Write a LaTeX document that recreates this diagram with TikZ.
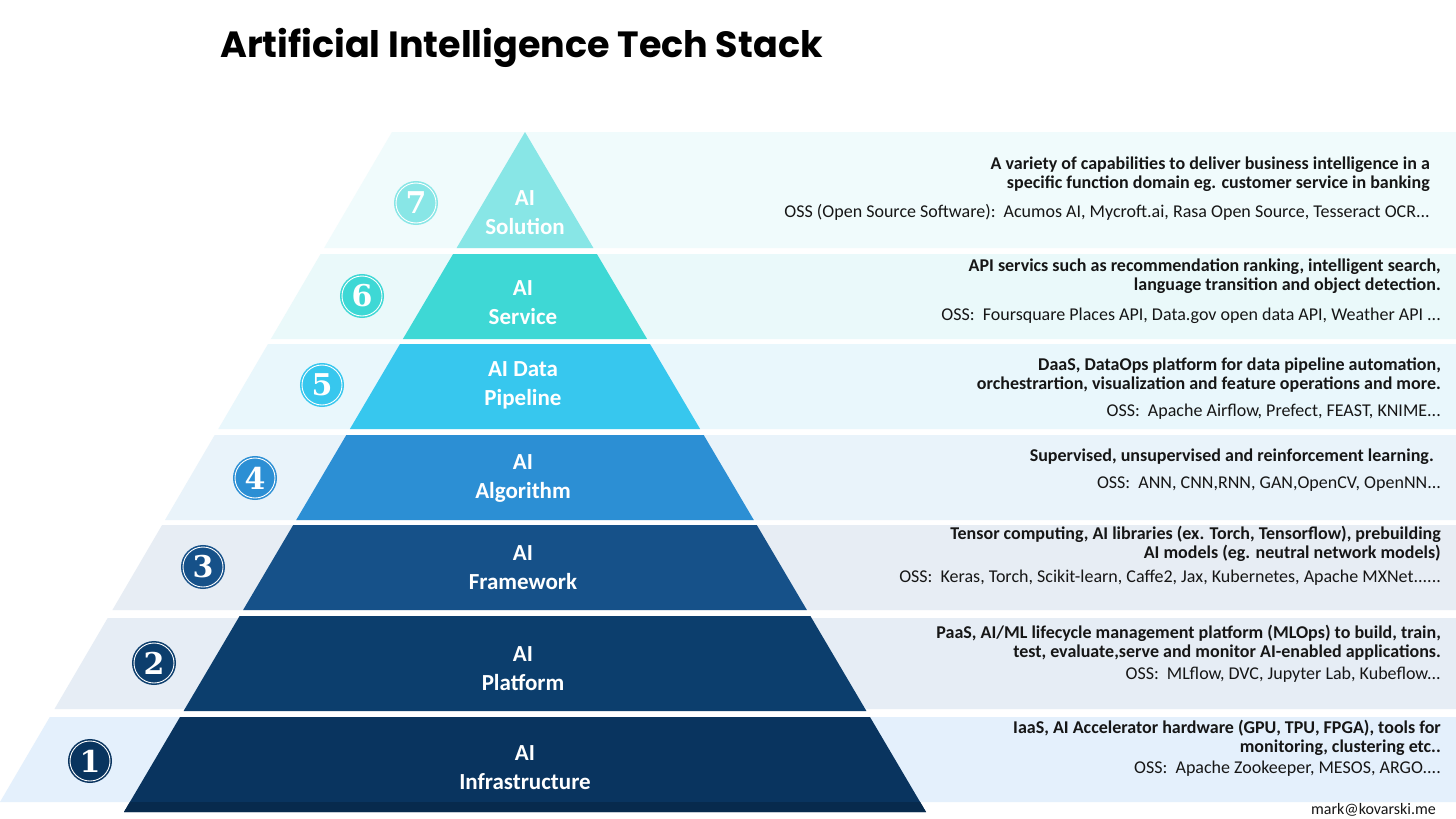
\documentclass[tikz,border=0pt]{standalone}
\usepackage{fontspec}
\setmainfont{Carlito}
\newfontfamily\titlefont{Poppins}
\newfontfamily\badgefont{DejaVu Serif}

\definecolor{solc}{HTML}{88E6E6}
\definecolor{solbg}{HTML}{F0FBFC}
\definecolor{svcc}{HTML}{3ED8D5}
\definecolor{svcbg}{HTML}{EAF9FA}
\definecolor{pipec}{HTML}{37C7EE}
\definecolor{pipebg}{HTML}{E9F7FC}
\definecolor{algoc}{HTML}{2C8FD4}
\definecolor{algobg}{HTML}{E9F3FA}
\definecolor{framec}{HTML}{165189}
\definecolor{framebg}{HTML}{E7EDF4}
\definecolor{platc}{HTML}{0C3E6D}
\definecolor{platbg}{HTML}{E6EDF5}
\definecolor{infrac}{HTML}{09345F}
\definecolor{infrabg}{HTML}{E4F0FC}
\definecolor{infrastrip}{HTML}{072A4D}
\definecolor{txt}{HTML}{161616}

\tikzset{
  badge/.style={circle, fill=#1, draw=white, line width=0.9pt, minimum size=40pt, inner sep=0pt,
    preaction={draw=#1, line width=4pt}, text=white,
    font=\badgefont\bfseries\fontsize{30}{30}\selectfont},
  lbl/.style={text=white, align=center, inner sep=0pt, font=\bfseries\fontsize{23}{29}\selectfont},
  desc/.style={anchor=east, align=right, inner sep=0pt, text=txt, font=\bfseries\fontsize{18}{18.5}\selectfont},
  oss/.style={anchor=east, inner sep=0pt, text=txt, font=\fontsize{18}{18.5}\selectfont}
}

\begin{document}
\begin{tikzpicture}[x=1pt, y=-1pt]
        \useasboundingbox[fill=white] (0,0) rectangle (1456,819);

        \node[anchor=base west, inner sep=0pt, font=\titlefont\bfseries\fontsize{36.5}{36.5}\selectfont] (title) at (220,57) {Artificial Intelligence Tech Stack};

        % light bands
        \fill[solbg] (392,132) -- (1456,132) -- (1456,248) -- (324.1,248) -- cycle;
        \fill[svcbg] (320.6,254) -- (1456,254) -- (1456,339) -- (270.9,339) -- cycle;
        \fill[pipebg] (268,344) -- (1456,344) -- (1456,429) -- (218.3,429) -- cycle;
        \fill[algobg] (214.7,435) -- (1456,435) -- (1456,520) -- (165,520) -- cycle;
        \fill[framebg] (162.1,525) -- (1456,525) -- (1456,610) -- (112.4,610) -- cycle;
        \fill[platbg] (107.7,618) -- (1456,618) -- (1456,709) -- (54.5,709) -- cycle;
        \fill[infrabg] (49.8,717) -- (1456,717) -- (1456,802) -- (0,802) -- cycle;

        % pyramid
        \fill[solc] (525,132) -- (593.4,248) -- (456.6,248) -- cycle;
        \fill[svcc] (453.1,254) -- (596.9,254) -- (647.1,339) -- (402.9,339) -- cycle;
        \fill[pipec] (400,344) -- (650,344) -- (700.1,429) -- (349.9,429) -- cycle;
        \fill[algoc] (346.3,435) -- (703.7,435) -- (753.8,520) -- (296.2,520) -- cycle;
        \fill[framec] (293.2,525) -- (756.8,525) -- (806.9,610) -- (243.1,610) -- cycle;
        \fill[platc] (239.6,616) -- (810.4,616) -- (866.4,711) -- (183.6,711) -- cycle;
        \fill[infrac] (180,717) -- (870,717) -- (926,812) -- (124,812) -- cycle;
        \fill[infrastrip] (129.9,802) -- (920.1,802) -- (926,812) -- (124,812) -- cycle;

        \node[lbl] (solution) at (525,213) {AI\\Solution};
        \node[lbl] (service) at (523,302.5) {AI\\Service};
        \node[lbl] (pipeline) at (523,385) {AI Data\\Pipeline};
        \node[lbl] (algorithm) at (523,478.5) {AI\\Algorithm};
        \node[lbl] (framework) at (523,567.5) {AI\\Framework};
        \node[lbl] (platform) at (523,668.5) {AI\\Platform};
        \node[lbl] (infra) at (525,767.5) {AI\\Infrastructure};

        % numbers
        \node[badge=solc] (n7) at (416,203) {7};
        \node[badge=svcc] (n6) at (362,296) {6};
        \node[badge=pipec] (n5) at (322,385) {5};
        \node[badge=algoc] (n4) at (255,478) {4};
        \node[badge=framec] (n3) at (203,567) {3};
        \node[badge=platc] (n2) at (154,663) {2};
        \node[badge=infrac] (n1) at (90,761) {1};

        % descriptions
        \node[desc] (d7) at (1430,174) {A variety of capabilities to deliver business intelligence in a\\specific function domain eg. customer service in banking};
        \node[oss] (o7) at (1430,212) {OSS (Open Source Software):~~Acumos AI, Mycroft.ai, Rasa Open Source, Tesseract OCR...};
        \node[desc] (d6) at (1441,276) {API servics such as recommendation ranking, intelligent search,\\language transition and object detection.};
        \node[oss] (o6) at (1441,316) {OSS:~~Foursquare Places API, Data.gov open data API, Weather API ...};
        \node[desc] (d5) at (1441,375) {DaaS, DataOps platform for data pipeline automation,\\orchestrartion, visualization and feature operations and more.};
        \node[oss] (o5) at (1441,412) {OSS:~~Apache Airflow, Prefect, FEAST, KNIME...};
        \node[desc] (d4) at (1434,457) {Supervised, unsupervised and reinforcement learning.};
        \node[oss] (o4) at (1441,484) {OSS:~~ANN, CNN,RNN, GAN,OpenCV, OpenNN...};
        \node[desc] (d3) at (1441,544) {Tensor computing, AI libraries (ex. Torch, Tensorflow), prebuilding\\AI models (eg. neutral network models)};
        \node[oss] (o3) at (1441,578) {OSS:~~Keras, Torch, Scikit-learn, Caffe2, Jax, Kubernetes, Apache MXNet......};
        \node[desc] (d2) at (1441,642.5) {PaaS, AI/ML lifecycle management platform (MLOps) to build, train,\\test, evaluate,serve and monitor AI-enabled applications.};
        \node[oss] (o2) at (1441,675) {OSS:~~MLflow, DVC, Jupyter Lab, Kubeflow...};
        \node[desc] (d1) at (1441,738) {IaaS, AI Accelerator hardware (GPU, TPU, FPGA), tools for\\monitoring, clustering etc..};
        \node[oss] (o1) at (1441,769) {OSS:~~Apache Zookeeper, MESOS, ARGO....};

        \node[oss, font=\fontsize{16}{16}\selectfont] (mail) at (1436,810) {mark@kovarski.me};
\end{tikzpicture}
\end{document}
